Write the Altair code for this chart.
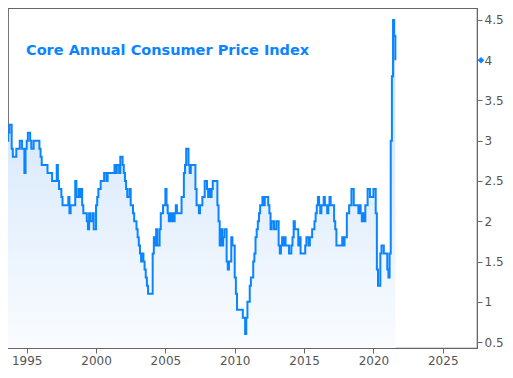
import altair as alt
import pandas as pd

# Core CPI, year-over-year % (monthly), May 1993 .. Aug 2021
start_year = 1993
start_month = 5
cpi_1993 = [3.3, 3.3, 3.0, 3.0, 3.1, 3.2, 3.2, 2.9]
cpi_1994 = [2.8, 2.8, 2.8, 2.9, 2.9, 2.9, 3.0, 3.0, 2.9, 2.9, 2.6, 2.9]
cpi_1995 = [3.0, 3.1, 3.1, 3.0, 2.9, 2.9, 3.0, 3.0, 3.0, 3.0, 3.0, 2.9]
cpi_1996 = [2.8, 2.7, 2.7, 2.7, 2.7, 2.7, 2.6, 2.6, 2.6, 2.6, 2.5, 2.5]
cpi_1997 = [2.5, 2.5, 2.7, 2.5, 2.4, 2.4, 2.3, 2.2, 2.2, 2.2, 2.2, 2.2]
cpi_1998 = [2.3, 2.1, 2.2, 2.2, 2.2, 2.2, 2.5, 2.3, 2.3, 2.4, 2.3, 2.4]
cpi_1999 = [2.2, 2.1, 2.1, 2.1, 2.0, 1.9, 2.1, 2.0, 2.0, 2.1, 1.9, 1.9]
cpi_2000 = [2.2, 2.3, 2.4, 2.4, 2.5, 2.5, 2.5, 2.6, 2.6, 2.5, 2.6, 2.6]
cpi_2001 = [2.6, 2.6, 2.6, 2.6, 2.7, 2.6, 2.7, 2.7, 2.6, 2.8, 2.8, 2.7]
cpi_2002 = [2.6, 2.5, 2.4, 2.3, 2.3, 2.4, 2.2, 2.2, 2.1, 2.0, 2.0, 1.9]
cpi_2003 = [1.8, 1.7, 1.6, 1.5, 1.6, 1.5, 1.4, 1.3, 1.2, 1.1, 1.1, 1.1]
cpi_2004 = [1.1, 1.6, 1.8, 1.7, 1.9, 1.7, 1.7, 1.9, 2.1, 2.1, 2.2, 2.2]
cpi_2005 = [2.4, 2.2, 2.1, 2.0, 2.1, 2.0, 2.1, 2.0, 2.1, 2.2, 2.1, 2.1]
cpi_2006 = [2.1, 2.1, 2.3, 2.3, 2.6, 2.7, 2.9, 2.9, 2.7, 2.6, 2.7, 2.7]
cpi_2007 = [2.7, 2.7, 2.4, 2.2, 2.2, 2.1, 2.2, 2.2, 2.3, 2.3, 2.5, 2.5]
cpi_2008 = [2.4, 2.3, 2.4, 2.3, 2.4, 2.5, 2.5, 2.5, 2.5, 2.2, 2.0, 1.7]
cpi_2009 = [1.9, 1.7, 1.8, 1.9, 1.9, 1.5, 1.4, 1.5, 1.5, 1.8, 1.7, 1.7]
cpi_2010 = [1.3, 1.1, 0.9, 0.9, 0.9, 0.9, 0.9, 0.8, 0.8, 0.6, 0.8, 1.0]
cpi_2011 = [1.0, 1.2, 1.3, 1.3, 1.5, 1.6, 1.8, 1.9, 2.0, 2.1, 2.2, 2.2]
cpi_2012 = [2.3, 2.2, 2.3, 2.3, 2.3, 2.2, 2.1, 1.9, 2.0, 2.0, 1.9, 1.9]
cpi_2013 = [2.0, 2.0, 1.7, 1.6, 1.7, 1.8, 1.7, 1.8, 1.7, 1.7, 1.7, 1.6]
cpi_2014 = [1.6, 1.7, 1.8, 2.0, 1.9, 1.9, 1.9, 1.7, 1.8, 1.6, 1.6, 1.6]
cpi_2015 = [1.6, 1.7, 1.8, 1.8, 1.7, 1.8, 1.8, 1.9, 1.9, 2.0, 2.1, 2.2]
cpi_2016 = [2.3, 2.2, 2.1, 2.2, 2.2, 2.3, 2.2, 2.2, 2.1, 2.2, 2.3, 2.2]
cpi_2017 = [2.2, 2.2, 2.0, 1.9, 1.7, 1.7, 1.7, 1.7, 1.7, 1.8, 1.7, 1.8]
cpi_2018 = [1.8, 2.1, 2.1, 2.2, 2.2, 2.4, 2.4, 2.2, 2.2, 2.2, 2.2, 2.1]
cpi_2019 = [2.2, 2.1, 2.0, 2.1, 2.0, 2.2, 2.2, 2.4, 2.4, 2.3, 2.3, 2.3]
cpi_2020 = [2.4, 2.4, 2.1, 1.4, 1.2, 1.2, 1.6, 1.7, 1.7, 1.6, 1.6, 1.6]
cpi_2021 = [1.4, 1.3, 1.6, 3.0, 3.8, 4.5, 4.3, 4.0]

series = (cpi_1993 + cpi_1994 + cpi_1995 + cpi_1996 + cpi_1997 + cpi_1998 +
          cpi_1999 + cpi_2000 + cpi_2001 + cpi_2002 + cpi_2003 + cpi_2004 +
          cpi_2005 + cpi_2006 + cpi_2007 + cpi_2008 + cpi_2009 + cpi_2010 +
          cpi_2011 + cpi_2012 + cpi_2013 + cpi_2014 + cpi_2015 + cpi_2016 +
          cpi_2017 + cpi_2018 + cpi_2019 + cpi_2020 + cpi_2021)

x_ticks = [1995, 2000, 2005, 2010, 2015, 2020, 2025]
y_ticks = [0.5, 1, 1.5, 2, 2.5, 3, 3.5, 4, 4.5]
title_text = "Core Annual Consumer Price Index"

years = [start_year + (start_month - 1 + i) / 12 for i in range(len(series))]
df = pd.DataFrame({"year": years, "cpi": series})
last = df.tail(1)

BLUE = "#0a84ff"
W, H = 469, 340

x_enc = alt.X("year:Q",
              scale=alt.Scale(domain=[1993.652, 2027.47], nice=False, zero=False),
              axis=alt.Axis(values=x_ticks, format="d", title=None, grid=False,
                            tickSize=5, labelPadding=2, labelFontSize=12,
                            labelFont="DejaVu Sans", labelColor="#555555",
                            domainColor="#666666", tickColor="#666666"))
y_enc = alt.Y("cpi:Q",
              scale=alt.Scale(domain=[0.4255, 4.649], nice=False, zero=False),
              axis=alt.Axis(orient="right", values=y_ticks, format="~g", title=None,
                            grid=False, tickSize=5, labelPadding=2, labelFontSize=12,
                            labelFont="DejaVu Sans", labelColor="#555555",
                            domainColor="#666666", tickColor="#666666"))

base = alt.Chart(df)

area = base.mark_area(
    interpolate="step-after", clip=True,
    color=alt.Gradient(gradient="linear",
                       stops=[alt.GradientStop(color="#ffffff", offset=0),
                              alt.GradientStop(color="#c8e0fa", offset=1)],
                       x1=1, x2=1, y1=1, y2=0),
).encode(x=x_enc, y=y_enc)

line = base.mark_line(interpolate="step-after", clip=True, color=BLUE,
                      strokeWidth=2).encode(x="year:Q", y="cpi:Q")

marker = alt.Chart(last).mark_point(shape="diamond", filled=True, color=BLUE,
                                    size=45, opacity=1).encode(
    x=alt.value(W + 4), y="cpi:Q")

title = alt.Chart(pd.DataFrame({"t": [title_text]})).mark_text(
    align="left", baseline="alphabetic", font="DejaVu Sans", fontWeight="bold",
    fontSize=14.5, color=BLUE).encode(x=alt.value(18), y=alt.value(47), text="t:N")

chart = alt.layer(area, line, marker, title).properties(
    width=W, height=H,
    padding={"left": 0, "top": 0, "right": 0, "bottom": 0},
).configure_view(stroke="#666666", strokeWidth=1.2)

chart.save("out.html", embed_options={"renderer": "svg", "actions": False})
